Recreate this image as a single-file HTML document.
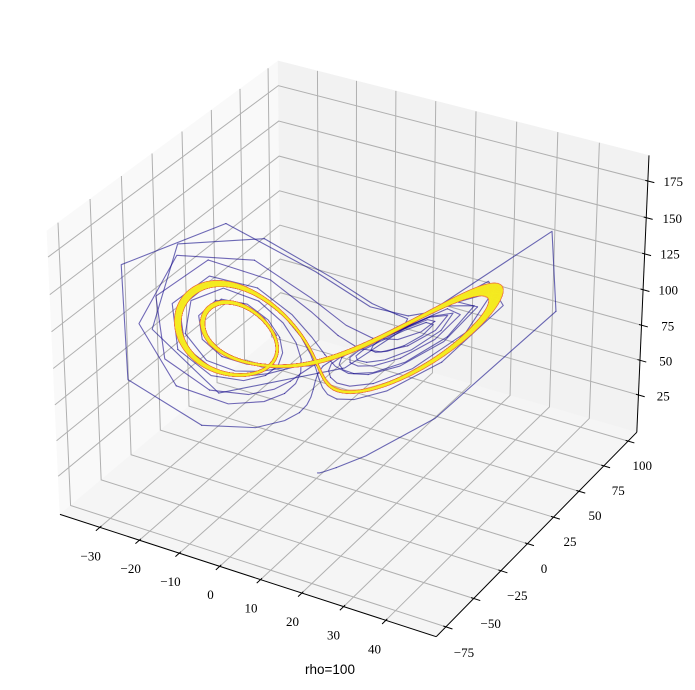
<!DOCTYPE html>
<html><head><meta charset="utf-8">
<style>
html,body{margin:0;padding:0;background:#fff;overflow:hidden;width:695px;height:690px;}
svg{display:block;}
.t{font-family:"Liberation Serif","DejaVu Serif",serif;font-size:13px;fill:#000;}
</style></head>
<body>
<svg id="s" width="695" height="690" viewBox="0 0 695 690" xmlns="http://www.w3.org/2000/svg">
<defs><clipPath id="cp"><rect x="0" y="0" width="695" height="690"/></clipPath></defs>
<g id="panes"></g>
<g id="grid" fill="none" stroke="#b0b0b0" stroke-width="1"></g>
<g id="axes" fill="none" stroke="#000" stroke-width="1"></g>
<g id="traj" fill="none" stroke-width="1.1" stroke-linejoin="round" stroke-linecap="round" clip-path="url(#cp)"></g>
<g id="band1" fill="none" stroke-linejoin="round" stroke-linecap="round" clip-path="url(#cp)"></g>
<g id="band2" fill="none" stroke-linejoin="round" stroke-linecap="round" clip-path="url(#cp)"></g>
<g class="t" text-anchor="middle">
<text x="90.7" y="560.5">−30</text>
<text x="130.7" y="573.2">−20</text>
<text x="170.5" y="585.8">−10</text>
<text x="210.5" y="598.8">0</text>
<text x="251" y="612.5">10</text>
<text x="292.5" y="626">20</text>
<text x="333.5" y="639.5">30</text>
<text x="374.5" y="653.5">40</text>
<text x="464" y="657.2">−75</text>
<text x="490.7" y="627.8">−50</text>
<text x="517.3" y="600.2">−25</text>
<text x="544" y="572.8">0</text>
<text x="570" y="546.2">25</text>
<text x="595" y="520.2">50</text>
<text x="618.3" y="495.2">75</text>
<text x="642.3" y="470.2">100</text>
<text x="663.3" y="400.5">25</text>
<text x="665.7" y="365.5">50</text>
<text x="667.7" y="330.5">75</text>
<text x="668.3" y="294.5">100</text>
<text x="670" y="258.5">125</text>
<text x="672.3" y="222.8">150</text>
<text x="673.3" y="186.2">175</text>
</g>
<text x="330" y="674" font-family="Liberation Sans, sans-serif" font-size="13.5" text-anchor="middle" fill="#000">rho=100</text>
</svg>
<script>
(function(){
var NS="http://www.w3.org/2000/svg";
var XMIN=-40.2,XMAX=51.8,YMIN=-83.55,YMAX=109.05,ZMIN=-2.14,ZMAX=192.3;
var AX=1.142851,AY=1.142851,AZ=0.857138;
var c30=Math.cos(Math.PI/6);
var W=[c30*0.5,-0.75,0.5];
var U=[c30,0.5,0];
var V=[-0.25,0.5*c30,c30];
var E=[AX/2+10*W[0],AY/2+10*W[1],AZ/2+10*W[2]];
var S=3773,OX=353.5,OY=335.5;
function P(x,y,z){
  var d0=(x-XMIN)/(XMAX-XMIN)*AX-E[0];
  var d1=(y-YMIN)/(YMAX-YMIN)*AY-E[1];
  var d2=(z-ZMIN)/(ZMAX-ZMIN)*AZ-E[2];
  var su=U[0]*d0+U[1]*d1;
  var sv=V[0]*d0+V[1]*d1+V[2]*d2;
  var sw=-(W[0]*d0+W[1]*d1+W[2]*d2);
  return [OX+S*su/sw, OY-S*sv/sw];
}
function dstr(pts){
  var s="";
  for(var i=0;i<pts.length;i++){
    s+=(i?"L":"M")+pts[i][0].toFixed(2)+" "+pts[i][1].toFixed(2);
  }
  return s;
}
function add(g,attrs){
  var e=document.createElementNS(NS,"path");
  for(var k in attrs) e.setAttribute(k,attrs[k]);
  g.appendChild(e);
  return e;
}
var panes=document.getElementById("panes");
var grid=document.getElementById("grid");
var axes=document.getElementById("axes");
var traj=document.getElementById("traj");
var band1=document.getElementById("band1");
var band2=document.getElementById("band2");
add(panes,{d:dstr([P(XMIN,YMIN,ZMIN),P(XMIN,YMAX,ZMIN),P(XMIN,YMAX,ZMAX),P(XMIN,YMIN,ZMAX)])+"Z",fill:"#f9f9f9",stroke:"#f9f9f9","stroke-width":"0.5"});
add(panes,{d:dstr([P(XMIN,YMAX,ZMIN),P(XMAX,YMAX,ZMIN),P(XMAX,YMAX,ZMAX),P(XMIN,YMAX,ZMAX)])+"Z",fill:"#f2f2f2",stroke:"#f2f2f2","stroke-width":"0.5"});
add(panes,{d:dstr([P(XMIN,YMIN,ZMIN),P(XMAX,YMIN,ZMIN),P(XMAX,YMAX,ZMIN),P(XMIN,YMAX,ZMIN)])+"Z",fill:"#f5f5f5",stroke:"#f5f5f5","stroke-width":"0.5"});
var xt=[-30,-20,-10,0,10,20,30,40];
var yt=[-75,-50,-25,0,25,50,75,100];
var zt=[25,50,75,100,125,150,175];
var i,j,v;
for(i=0;i<xt.length;i++){v=xt[i];add(grid,{d:dstr([P(v,YMIN,ZMIN),P(v,YMAX,ZMIN),P(v,YMAX,ZMAX)])});}
for(i=0;i<yt.length;i++){v=yt[i];add(grid,{d:dstr([P(XMAX,v,ZMIN),P(XMIN,v,ZMIN),P(XMIN,v,ZMAX)])});}
for(i=0;i<zt.length;i++){v=zt[i];add(grid,{d:dstr([P(XMIN,YMIN,v),P(XMIN,YMAX,v),P(XMAX,YMAX,v)])});}
add(axes,{d:dstr([P(XMIN,YMIN,ZMIN),P(XMAX,YMIN,ZMIN)])});
add(axes,{d:dstr([P(XMAX,YMIN,ZMIN),P(XMAX,YMAX,ZMIN)])});
add(axes,{d:dstr([P(XMAX,YMAX,ZMIN),P(XMAX,YMAX,ZMAX)])});
var dx=(XMAX-XMIN)/12, dy=(YMAX-YMIN)/12;
var TO=0.2, TI=0.08;
for(i=0;i<xt.length;i++){v=xt[i];add(axes,{d:dstr([P(v,YMIN-TO*dy,ZMIN),P(v,YMIN+TI*dy,ZMIN)])});}
for(i=0;i<yt.length;i++){v=yt[i];add(axes,{d:dstr([P(XMAX+TO*dx,v,ZMIN),P(XMAX-TI*dx,v,ZMIN)])});}
for(i=0;i<zt.length;i++){v=zt[i];add(axes,{d:dstr([P(XMAX+TO*dx,YMAX,v),P(XMAX-TI*dx,YMAX,v)])});}

function lor(s){return [10*(s[1]-s[0]), s[0]*(100-s[2])-s[1], s[0]*s[1]-8/3*s[2]];}
var SUB=14, h=0.0025, N=12000;
function integrate(z0){
  var s=[0,1,z0]; var out=[s.slice()];
  for(var n=0;n<N;n++){
    for(var k=0;k<SUB;k++){
      var k1=lor(s);
      var s2=[s[0]+h/2*k1[0],s[1]+h/2*k1[1],s[2]+h/2*k1[2]];
      var k2=lor(s2);
      var s3=[s[0]+h/2*k2[0],s[1]+h/2*k2[1],s[2]+h/2*k2[2]];
      var k3=lor(s3);
      var s4=[s[0]+h*k3[0],s[1]+h*k3[1],s[2]+h*k3[2]];
      var k4=lor(s4);
      s=[s[0]+h/6*(k1[0]+2*k2[0]+2*k3[0]+k4[0]),
         s[1]+h/6*(k1[1]+2*k2[1]+2*k3[1]+k4[1]),
         s[2]+h/6*(k1[2]+2*k2[2]+2*k3[2]+k4[2])];
    }
    out.push(s.slice());
  }
  return out;
}
function meanx(pts){var m=0,c=0;for(var q=pts.length-2000;q<pts.length;q++){m+=pts[q][0];c++;}return m/c;}
function ok(pts){for(var q=0;q<pts.length;q++){if(!isFinite(pts[q][0])||Math.abs(pts[q][0])>500)return false;}return true;}
var cands=[1.05,1.0,1.1,0.95,1.2,0.9,1.15,1.3,0.8,1.25,1.02,1.08];
var pts=null;
for(i=0;i<cands.length;i++){
  var p=integrate(cands[i]);
  if(ok(p)&&meanx(p)<0){pts=p;break;}
}
if(!pts){pts=integrate(1.05);for(i=0;i<pts.length;i++){pts[i][0]=-pts[i][0];pts[i][1]=-pts[i][1];}}
var L=pts.length, R0=L-600;
var K=0, thr2=2.0*2.0;
for(i=R0-1;i>=0;i--){
  var best=1e18;
  for(j=R0;j<L;j++){
    var a=pts[i][0]-pts[j][0],b=pts[i][1]-pts[j][1],c=pts[i][2]-pts[j][2];
    var dd=a*a+b*b+c*c; if(dd<best){best=dd; if(best<thr2)break;}
  }
  if(best>=thr2){K=i;break;}
}
var pl=[[13,8,135],[65,4,157],[106,0,168],[143,13,164],[177,42,144],[204,71,120],[225,100,98],[242,132,75],[252,166,54],[252,206,37],[240,249,33]];
function plasma(t){
  t=Math.max(0,Math.min(1,t))*10; var a=Math.floor(t); if(a>=10)a=9; var f=t-a;
  var c0=pl[a],c1=pl[a+1];
  return "rgb("+Math.round(c0[0]+(c1[0]-c0[0])*f)+","+Math.round(c0[1]+(c1[1]-c0[1])*f)+","+Math.round(c0[2]+(c1[2]-c0[2])*f)+")";
}
var proj=[];
for(i=0;i<pts.length;i++)proj.push(P(pts[i][0],pts[i][1],pts[i][2]));
var NB=Math.min(K,210);
var CH=3;
for(i=0;i<NB;i+=CH){
  var seg=proj.slice(i,Math.min(i+CH,NB)+1);
  if(seg.length<2)break;
  add(traj,{d:dstr(seg),stroke:plasma(0.02*i/Math.max(NB,1)),"stroke-opacity":"0.6"});
}
var CH2=6;
for(i=K;i<N;i+=CH2){
  var sg=proj.slice(i,Math.min(i+CH2,N)+1);
  if(sg.length<2)break;
  add(band1,{d:dstr(sg),stroke:"rgb(236,112,72)","stroke-opacity":"0.5","stroke-width":"2.3"});
}
for(i=K;i<N;i+=CH2){
  var sg2=proj.slice(i,Math.min(i+CH2,N)+1);
  if(sg2.length<2)break;
  add(band2,{d:dstr(sg2),stroke:plasma(0.84+0.13*(i-K)/Math.max(N-K,1)),"stroke-opacity":"0.55","stroke-width":"1.0"});
}
})();
</script>
</body></html>
